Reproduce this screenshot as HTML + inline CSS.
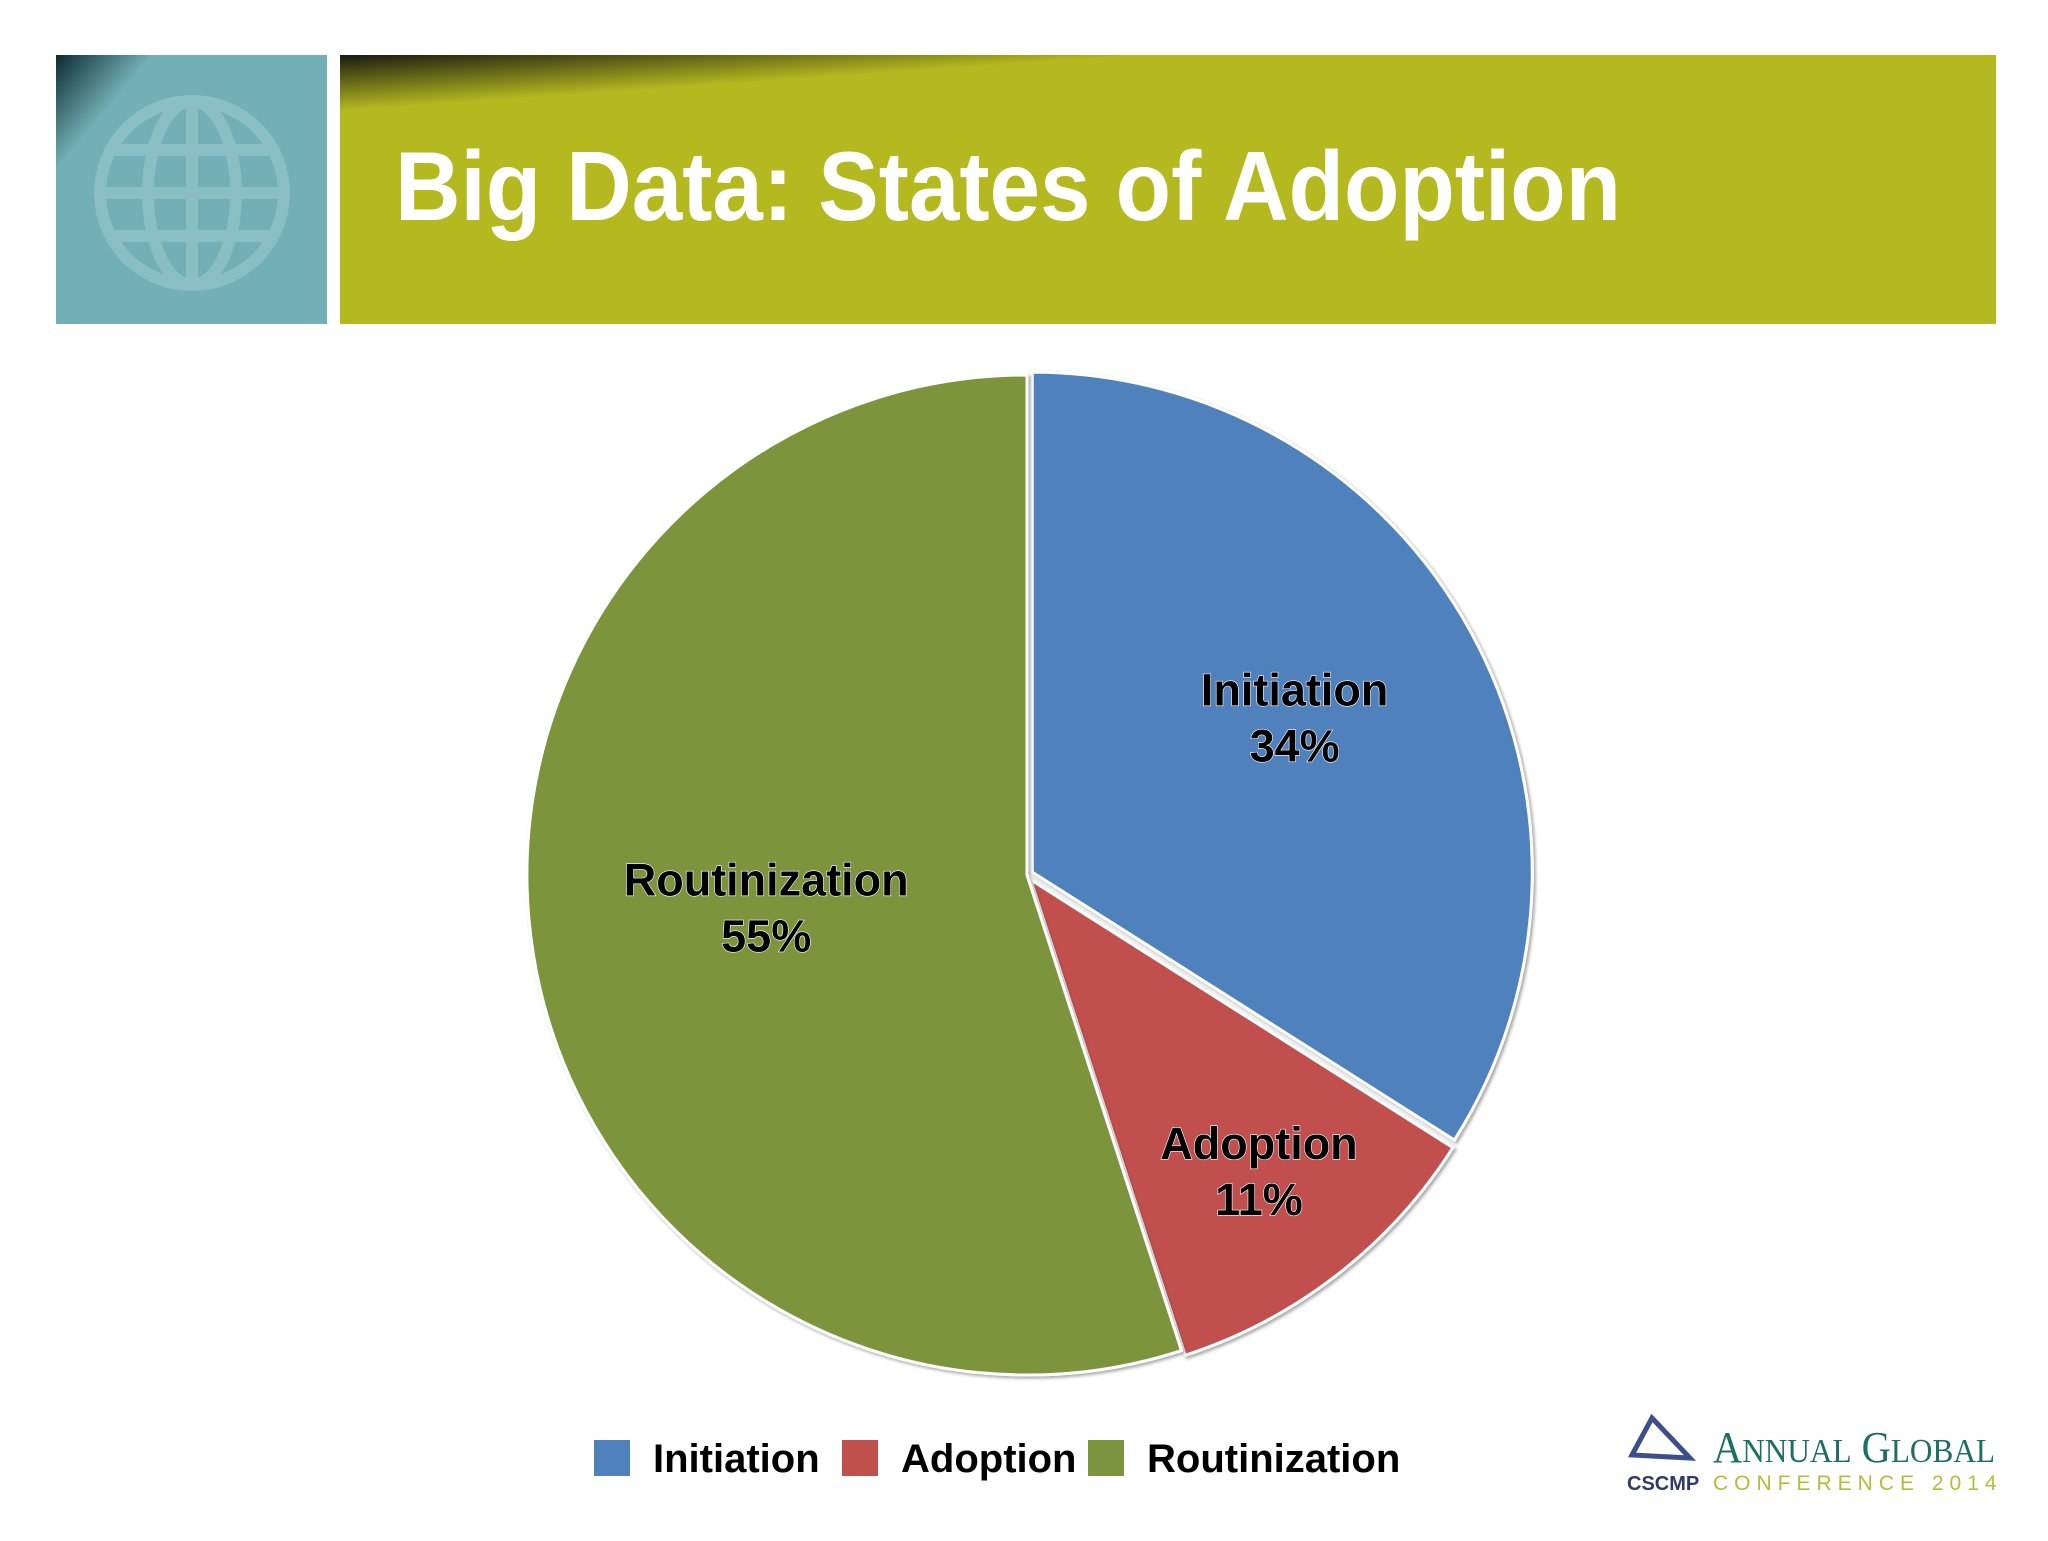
<!DOCTYPE html>
<html><head><meta charset="utf-8"><style>
body{margin:0;width:2048px;height:1536px;background:#fff;overflow:hidden;font-family:"Liberation Sans",sans-serif}
</style></head><body>
<svg width="2048" height="1536" viewBox="0 0 2048 1536">
<defs>
<linearGradient id="tg" x1="0" y1="0" x2="0.6" y2="0.5"><stop offset="0" stop-color="#0d2a2e"/><stop offset="0.35" stop-color="#72afb6"/><stop offset="1" stop-color="#72afb6"/></linearGradient>
<linearGradient id="gg" x1="0" y1="0" x2="0.15" y2="0.35"><stop offset="0" stop-color="#1a1a10"/><stop offset="0.5" stop-color="#b3b91f"/><stop offset="1" stop-color="#b3b91f"/></linearGradient>
<filter id="sh"><feDropShadow dx="2" dy="2" stdDeviation="1.5" flood-color="#000" flood-opacity="0.35"/></filter>
</defs>
<rect x="56" y="55" width="271" height="269" fill="url(#tg)"/>
<g fill="none" stroke="#8ec2c8" stroke-width="12" opacity="0.8">
<circle cx="192" cy="193" r="92"/><ellipse cx="192" cy="193" rx="44" ry="92"/>
<line x1="100" y1="193" x2="284" y2="193"/><line x1="112" y1="150" x2="272" y2="150"/><line x1="112" y1="236" x2="272" y2="236"/><line x1="192" y1="101" x2="192" y2="285"/>
</g>
<rect x="340" y="55" width="1656" height="269" fill="url(#gg)"/>
<text x="395" y="220" font-size="98" font-weight="bold" fill="#fff" textLength="1226" lengthAdjust="spacingAndGlyphs">Big Data: States of Adoption</text>
<g id="pie"></g>
<g id="legend"></g>
<g>
<path d="M1652 1418 L1632 1455 L1690 1458 Z" fill="none" stroke="#3b4f8a" stroke-width="5"/>
<text x="1713" y="1462" font-size="44" fill="#1d6f62" font-family="Liberation Serif,serif" textLength="282" lengthAdjust="spacingAndGlyphs">A<tspan font-size="34">NNUAL</tspan> G<tspan font-size="34">LOBAL</tspan></text>
<text x="1627" y="1490" font-size="20" font-weight="bold" fill="#2e3a6a">CSCMP</text>
<text x="1713" y="1490" font-size="21" fill="#b5bc3a" letter-spacing="6">CONFERENCE 2014</text>
</g>
</svg>
<script>
const categories=["Initiation","Adoption","Routinization"];
const values=[34,11,55];
const labels=["34%","11%","55%"];
const colors=["#4f81bd","#c0504d","#7b953e"];
const labelRadius=[0.62,0.77,0.52];
const NS="http://www.w3.org/2000/svg";
const cx=1027,cy=875,r=500;
const total=values.reduce((a,b)=>a+b,0);
const pie=document.getElementById('pie');
let a0=0;
values.forEach((v,i)=>{
 const a1=a0+v/total*2*Math.PI;
 const mid=(a0+a1)/2;
 const off=i===2?0:6;
 const ox=Math.sin(mid)*off,oy=-Math.cos(mid)*off;
 const x0=cx+ox+r*Math.sin(a0),y0=cy+oy-r*Math.cos(a0);
 const x1=cx+ox+r*Math.sin(a1),y1=cy+oy-r*Math.cos(a1);
 const p=document.createElementNS(NS,'path');
 p.setAttribute('d',`M${cx+ox} ${cy+oy} L${x0} ${y0} A${r} ${r} 0 ${a1-a0>Math.PI?1:0} 1 ${x1} ${y1} Z`);
 p.setAttribute('fill',colors[i]);p.setAttribute('stroke','#fff');p.setAttribute('stroke-width','3');
 p.setAttribute('filter','url(#sh)');
 
 
 pie.appendChild(p);
 const lr=r*labelRadius[i];
 const lx=cx+lr*Math.sin(mid)-4,ly=cy-lr*Math.cos(mid);
 [[categories[i],-20],[labels[i],36]].forEach(([t,dy],k)=>{
  const tx=document.createElementNS(NS,'text');
  tx.setAttribute('x',lx);tx.setAttribute('y',ly+dy);tx.setAttribute('text-anchor','middle');
  tx.setAttribute('font-size','45');tx.setAttribute('font-weight','bold');tx.setAttribute('fill','#000');
  tx.setAttribute('stroke','#fff');tx.setAttribute('stroke-width','1.2');tx.setAttribute('paint-order','stroke');
  
  
  tx.textContent=t;pie.appendChild(tx);
 });
 a0=a1;
});
const lg=document.getElementById('legend');
const lx=[594,842,1088];
categories.forEach((c,i)=>{
 const s=document.createElementNS(NS,'rect');
 s.setAttribute('x',lx[i]);s.setAttribute('y',1440);s.setAttribute('width',36);s.setAttribute('height',36);
 s.setAttribute('fill',colors[i]);
 
 
 lg.appendChild(s);
 const t=document.createElementNS(NS,'text');
 t.setAttribute('x',lx[i]+59);t.setAttribute('y',1472);t.setAttribute('font-size','40');t.setAttribute('font-weight','bold');
 t.textContent=c;
 
 
 lg.appendChild(t);
});
</script>
</body></html>
